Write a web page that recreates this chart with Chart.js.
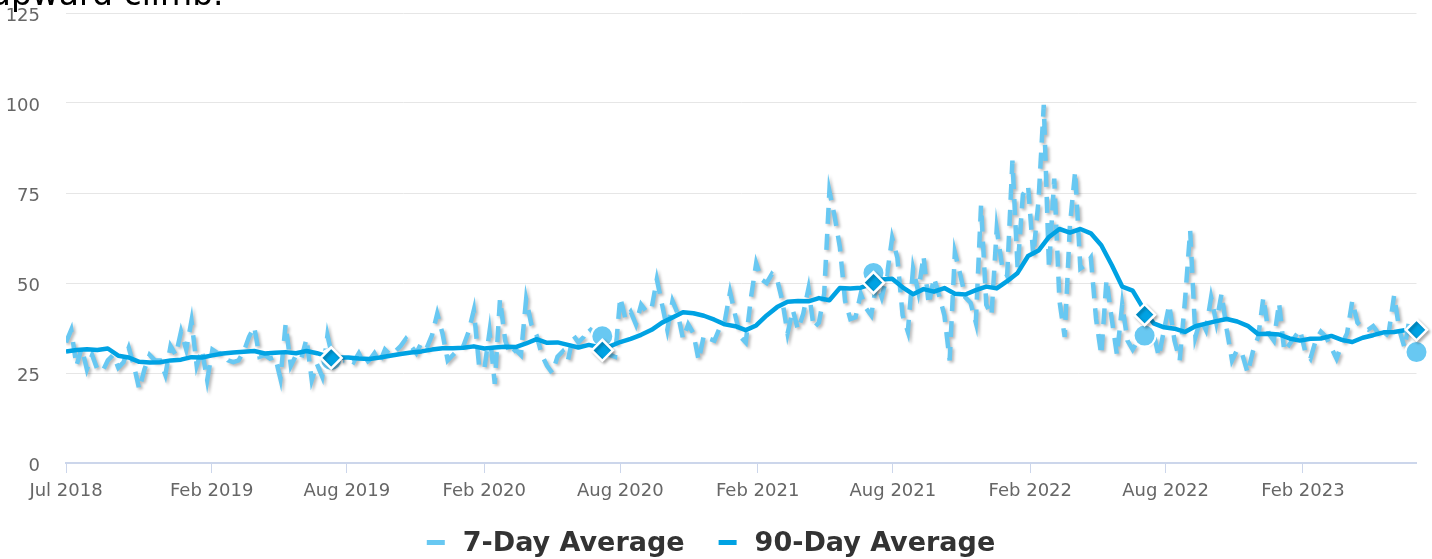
<!DOCTYPE html>
<html>
<head>
<meta charset="utf-8">
<script src="https://cdn.jsdelivr.net/npm/chart.js@4.4.1/dist/chart.umd.min.js"></script>
<style>
  html, body { margin: 0; padding: 0; background: #ffffff; }
  #wrap { position: relative; width: 1432px; height: 559px; overflow: hidden; }
  canvas { display: block; }
</style>
</head>
<body>
<div id="wrap"><canvas id="chart" width="1432" height="559"></canvas></div>
<script>
// ---------------- data ----------------
const titleText = 'upward climb.';
const seriesNames = ['7-Day Average', '90-Day Average'];

// 7-day average, one observation per week starting on this date
const sevenDayStart = '2018-07-21';
const sevenDayStepDays = 7;
const sevenDayValues = [
  33.5, 37, 27, 32, 26, 30, 26, 25.5, 28.5, 30,
  26.5, 28, 32, 27, 20.5, 26, 30, 28.5, 28.5, 24.5,
  32.5, 30, 36.5, 31.5, 39.5, 27, 31.5, 23, 31.5, 30.5,
  30.5, 28.5, 28, 28.5, 31, 35, 37.8, 29.5, 30, 29,
  29.5, 23.5, 38.5, 27, 30, 29, 34.5, 23, 27.5, 24,
  35.5, 29, 30, 28.5, 29, 28, 30.5, 27.5, 28.5, 30.5,
  28, 31.5, 30, 31, 32.5, 34.5, 32.5, 30.5, 33.5, 32,
  35.5, 41.5, 36, 28.5, 30, 31.5, 32.5, 36.5, 42.5, 27,
  26, 36.5, 22, 45.5, 34, 30, 31.5, 30, 45.5, 38.5,
  35.5, 30, 27, 25, 29.5, 31, 28.5, 35.5, 33.5, 35,
  37.5, 36, 35, 33, 30, 29.5, 46, 40, 42, 38.5,
  44, 42, 43, 51, 44, 37, 45, 41.5, 34.5, 38.5,
  36, 28.5, 35.5, 34.5, 34, 37.5, 39.5, 47.5, 41, 35,
  33.5, 46, 55.5, 51, 50, 52.5, 51, 45, 36, 42.5,
  37, 41.5, 48.5, 37.5, 39, 47, 75.5, 68.5, 60, 45,
  40, 40.5, 47, 43, 41, 50, 46, 52, 62.5, 57,
  41, 36.5, 54, 47.5, 57.5, 44, 51.5, 46.5, 41, 28.5,
  58.5, 52.5, 46, 44.5, 39, 71.5, 44, 41, 65, 55,
  52, 84, 54, 74.5, 77, 57.5, 73, 99.5, 54, 79,
  45, 35, 66, 81, 54, 55, 57, 40, 30, 51,
  40, 30, 44, 34, 31.5, 34, 36, 34, 36, 29.5,
  37, 44, 34, 28.5, 45, 64.5, 35, 40, 37, 46,
  39, 47, 37, 28.5, 31.5, 30, 25, 31, 35, 46,
  36, 34, 44.5, 31, 33, 35, 37, 31, 29, 34,
  36.5, 35, 32, 29, 33, 36, 45, 39, 37.5, 37,
  38, 36, 34.5, 36.5, 46.5, 37, 32, 40.5
];

// 90-day average, one observation every two weeks starting on this date
const ninetyDayStart = '2018-07-21';
const ninetyDayStepDays = 14;
const ninetyDayValues = [
  31, 31.4, 31.6, 31.4, 31.8, 29.8, 29.3, 28.1, 27.9, 28,
  28.5, 28.7, 29.4, 29.3, 29.9, 30.4, 30.7, 30.9, 31.1, 30.4,
  30.6, 30.8, 30.5, 31.1, 30.5, 29.6, 29.3, 29.3, 29, 28.9,
  29.3, 29.8, 30.3, 30.7, 31, 31.5, 31.9, 31.9, 32, 32.4,
  31.8, 32.1, 32.3, 32.2, 33.2, 34.4, 33.4, 33.5, 32.8, 32.1,
  32.8, 32.2, 32.4, 33.6, 34.5, 35.6, 37, 39, 40.4, 41.9,
  41.6, 40.9, 39.8, 38.5, 38, 36.9, 38.2, 41, 43.3, 44.8,
  45, 44.9, 45.8, 45.2, 48.6, 48.5, 48.7, 49.7, 51, 51.2,
  48.8, 46.9, 48.3, 47.6, 48.6, 47, 46.8, 48, 49, 48.5,
  50.5, 52.8, 57.5, 59, 62.8, 65, 64, 65, 63.8, 60.5,
  55, 49, 47.9, 43, 38.8, 37.7, 37.3, 36.4, 38, 38.7,
  39.4, 40, 39.3, 38.1, 35.8, 35.9, 35.7, 34.6, 34, 34.5,
  34.6, 35.3, 34.2, 33.6, 34.8, 35.5, 36.3, 36.4, 36.9
];

// highlighted points, one per year
const markerDates = ['2019-07-11', '2020-07-08', '2021-07-06', '2022-07-04', '2023-07-03'];
const sevenDayMarkerValues = [28.6, 35.2, 52.8, 35.4, 30.8];
const ninetyDayMarkerValues = [29.2, 31.3, 50.1, 41.2, 37.0];

// axes
const axisStart = '2018-07-21';
const axisEnd = '2023-07-03';
const xTickDates = ['2018-07-21', '2019-02-01', '2019-08-01', '2020-02-01', '2020-08-01',
                    '2021-02-01', '2021-08-01', '2022-02-01', '2022-08-01', '2023-02-01'];
const xTickLabels = ['Jul 2018', 'Feb 2019', 'Aug 2019', 'Feb 2020', 'Aug 2020',
                     'Feb 2021', 'Aug 2021', 'Feb 2022', 'Aug 2022', 'Feb 2023'];
const yTickValues = [0, 25, 50, 75, 100, 125];

// ---------------- helpers ----------------
const LIGHT = '#68c8f2';
const DARK = '#00a2e3';
const MS_DAY = 86400000;
const BASE = Date.UTC(2018, 6, 1);
function toDay(s) {
  const p = s.split('-').map(Number);
  return Math.round((Date.UTC(p[0], p[1] - 1, p[2]) - BASE) / MS_DAY);
}
const sevenDayPoints = sevenDayValues.map((v, i) => ({ x: toDay(sevenDayStart) + i * sevenDayStepDays, y: v }));
const ninetyDayPoints = ninetyDayValues.map((v, i) => ({ x: toDay(ninetyDayStart) + i * ninetyDayStepDays, y: v }));
const sevenMarkerPoints = markerDates.map((d, i) => ({ x: toDay(d), y: sevenDayMarkerValues[i] }));
const ninetyMarkerPoints = markerDates.map((d, i) => ({ x: toDay(d), y: ninetyDayMarkerValues[i] }));
const xTickDays = xTickDates.map(toDay);

Chart.defaults.font.family = '"DejaVu Sans", sans-serif';

// drop shadow for flagged datasets
const shadowPlugin = {
  id: 'shadowPlugin',
  beforeDatasetDraw(chart, args) {
    const ds = chart.data.datasets[args.index];
    if (ds.dropShadow) {
      const c = chart.ctx;
      c.save();
      c.shadowColor = 'rgba(0,0,0,0.28)';
      c.shadowBlur = 3;
      c.shadowOffsetX = 2;
      c.shadowOffsetY = 2;
    }
  },
  afterDatasetDraw(chart, args) {
    const ds = chart.data.datasets[args.index];
    if (ds.dropShadow) chart.ctx.restore();
  }
};

// title (partly cut off at the top)
const titlePlugin = {
  id: 'titlePlugin',
  afterDraw(chart) {
    const c = chart.ctx;
    c.save();
    c.font = '33px "DejaVu Sans", sans-serif';
    c.fillStyle = '#000000';
    c.textBaseline = 'alphabetic';
    c.textAlign = 'left';
    c.fillText(titleText, -10, 5);
    c.restore();
  }
};

// legend
const legendPlugin = {
  id: 'legendPlugin',
  afterDraw(chart) {
    const c = chart.ctx;
    c.save();
    c.font = 'bold 27px "DejaVu Sans", sans-serif';
    const items = [{ text: seriesNames[0], color: LIGHT }, { text: seriesNames[1], color: DARK }];
    const sym = 18, gap = 18, between = 34;
    const widths = items.map(it => c.measureText(it.text).width);
    let total = between * (items.length - 1);
    widths.forEach(w => { total += sym + gap + w; });
    let x = 711 - total / 2;
    items.forEach((it, i) => {
      c.fillStyle = it.color;
      c.fillRect(x, 540, sym, 5);
      x += sym + gap;
      c.fillStyle = '#333333';
      c.textBaseline = 'alphabetic';
      c.textAlign = 'left';
      c.fillText(it.text, x, 551);
      x += widths[i] + between;
    });
    c.restore();
  }
};

new Chart(document.getElementById('chart'), {
  type: 'line',
  data: {
    datasets: [
      {
        label: seriesNames[1] + ' marker',
        data: ninetyMarkerPoints,
        showLine: false,
        pointStyle: 'rectRot',
        pointRadius: 10.5,
        pointBackgroundColor: DARK,
        pointBorderColor: '#ffffff',
        pointBorderWidth: 2.5,
        clip: false,
        order: 0,
        dropShadow: true
      },
      {
        label: seriesNames[1],
        data: ninetyDayPoints,
        borderColor: DARK,
        backgroundColor: DARK,
        borderWidth: 4.5,
        pointRadius: 0,
        tension: 0,
        borderJoinStyle: 'round',
        order: 1
      },
      {
        label: seriesNames[0] + ' marker',
        data: sevenMarkerPoints,
        showLine: false,
        pointStyle: 'circle',
        pointRadius: 11,
        pointBackgroundColor: LIGHT,
        pointBorderColor: '#ffffff',
        pointBorderWidth: 2,
        clip: false,
        order: 2
      },
      {
        label: seriesNames[0],
        data: sevenDayPoints,
        borderColor: LIGHT,
        backgroundColor: LIGHT,
        borderWidth: 4.5,
        borderDash: [16, 10],
        pointRadius: 0,
        tension: 0,
        order: 3,
        dropShadow: true
      }
    ]
  },
  options: {
    responsive: false,
    animation: false,
    events: [],
    layout: { padding: { left: 0, right: 15.5, top: 9, bottom: 56 } },
    plugins: { legend: { display: false }, tooltip: { enabled: false }, title: { display: false } },
    scales: {
      x: {
        type: 'linear',
        min: toDay(axisStart),
        max: toDay(axisEnd),
        afterBuildTicks(scale) { scale.ticks = xTickDays.map(v => ({ value: v })); },
        afterFit(scale) { scale.height = 40; },
        ticks: {
          autoSkip: false,
          maxRotation: 0,
          minRotation: 0,
          padding: 8,
          color: '#666666',
          font: { size: 18 },
          callback(value) {
            const i = xTickDays.indexOf(value);
            return i >= 0 ? xTickLabels[i] : '';
          }
        },
        grid: { drawOnChartArea: false, drawTicks: true, tickLength: 10, color: '#ccd6eb', lineWidth: 1 },
        border: { display: true, color: '#ccd6eb', width: 2 }
      },
      y: {
        min: 0,
        max: 125,
        afterBuildTicks(scale) { scale.ticks = yTickValues.map(v => ({ value: v })); },
        afterFit(scale) { scale.width = 66; },
        ticks: {
          padding: 0,
          labelOffset: 3,
          color: '#666666',
          font: { size: 18, lineHeight: 1 }
        },
        grid: { color: '#e6e6e6', lineWidth: 1, drawTicks: true, tickLength: 26, tickColor: 'rgba(0,0,0,0)' },
        border: { display: false }
      }
    }
  },
  plugins: [shadowPlugin, titlePlugin, legendPlugin]
});
</script>
</body>
</html>
